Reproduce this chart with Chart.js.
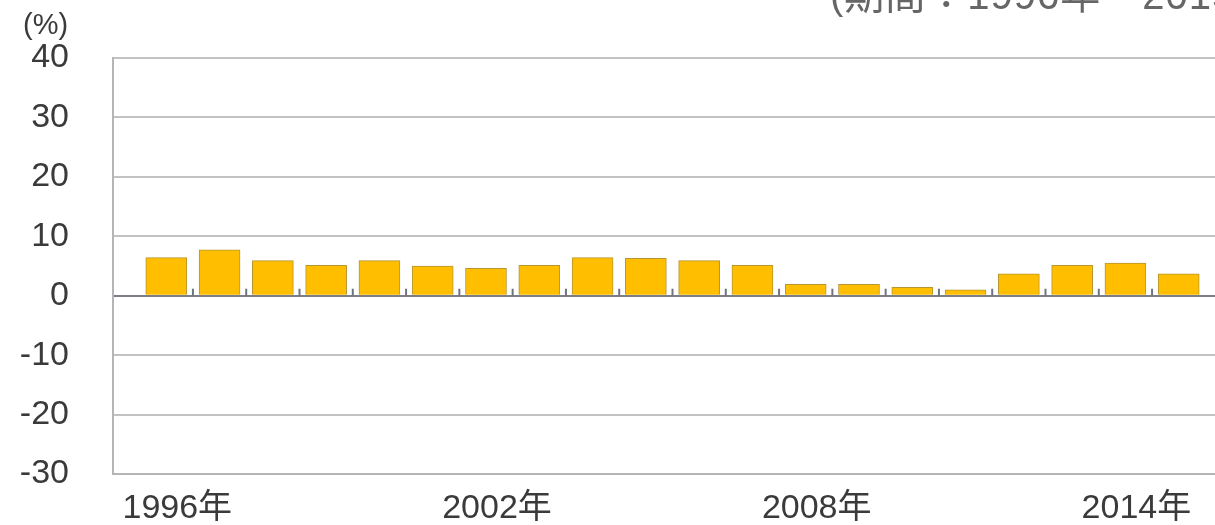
<!DOCTYPE html>
<html>
<head>
<meta charset="utf-8">
<script src="https://cdn.jsdelivr.net/npm/chart.js@4/dist/chart.umd.min.js"></script>
<style>
  html, body { margin: 0; padding: 0; background: #fff; overflow: hidden; }
  #wrap { position: relative; width: 1215px; height: 525px; overflow: hidden; }
  #growthChart { position: absolute; left: 0; top: 0; display: block; }
  .note { position: absolute; color: #555; font-family: "Liberation Sans", "Noto Sans CJK JP", sans-serif; white-space: nowrap; }
  #period { left: 830px; top: -25px; font-size: 40px; line-height: 40px; color: #666; letter-spacing: 1px; }
  #unit { left: 23px; top: 7px; font-size: 29px; line-height: 34px; color: #3a3a3a; }
</style>
</head>
<body>
<div id="wrap">
  <canvas id="growthChart" width="1250" height="525"></canvas>
  <div class="note" id="period">(期間：1996年～2015年)</div>
  <div class="note" id="unit">(%)</div>
</div>
<script>
// data
const years = [1996, 1997, 1998, 1999, 2000, 2001, 2002, 2003, 2004, 2005,
               2006, 2007, 2008, 2009, 2010, 2011, 2012, 2013, 2014, 2015];
const rates = [6.4, 7.7, 5.9, 5.1, 5.9, 5.0, 4.6, 5.1, 6.4, 6.3,
               5.9, 5.1, 1.9, 1.9, 1.4, 1.0, 3.7, 5.1, 5.5, 3.7];
const yearTicks = [1996, 2002, 2008, 2014];
const rateTicks = [-30, -20, -10, 0, 10, 20, 30, 40];

const fontFamily = '"Liberation Sans", "Noto Sans CJK JP", sans-serif';

// little marks on the zero line between bars
const zeroTicks = {
    id: 'zeroTicks',
    afterDatasetsDraw(chart) {
        const { ctx, scales } = chart;
        const y0 = scales.y.getPixelForValue(0);
        ctx.save();
        ctx.strokeStyle = '#6f7480';
        ctx.lineWidth = 2;
        for (let i = 0; i < years.length - 1; i++) {
            const x = scales.x.getPixelForValue(years[i] + 0.5);
            ctx.beginPath();
            ctx.moveTo(x, y0 - 7);
            ctx.lineTo(x, y0);
            ctx.stroke();
        }
        ctx.restore();
    }
};

const ctx = document.getElementById('growthChart').getContext('2d');
new Chart(ctx, {
    type: 'bar',
    data: {
        datasets: [
            {
                data: years.map((yr, i) => ({ x: yr, y: rates[i] })),
                backgroundColor: '#FFBE00',
                borderColor: '#B8962E',
                borderWidth: 1,
                barThickness: 41
            }
        ]
    },
    options: {
        responsive: false,
        animation: false,
        layout: {
            padding: { top: 58, left: 0, right: 18, bottom: 0 }
        },
        plugins: {
            legend: { display: false },
            tooltip: { enabled: false }
        },
        scales: {
            x: {
                type: 'linear',
                offset: false,
                min: 1995,
                max: 2016,
                afterBuildTicks: (scale) => {
                    scale.ticks = yearTicks.map(v => ({ value: v }));
                },
                afterFit: (scale) => {
                    scale.height = 51;
                    scale.paddingLeft = 0;
                    scale.paddingRight = 0;
                },
                grid: { display: false },
                border: { display: true, color: '#b5b5b5', width: 2 },
                ticks: {
                    autoSkip: false,
                    maxRotation: 0,
                    padding: 6,
                    labelOffset: 11,
                    color: '#3a3a3a',
                    font: { family: fontFamily, size: 34 },
                    callback: (v) => v + '年'
                }
            },
            y: {
                min: -30,
                max: 40,
                afterBuildTicks: (scale) => {
                    scale.ticks = rateTicks.map(v => ({ value: v }));
                },
                afterFit: (scale) => {
                    scale.width = 113;
                    scale.paddingTop = 0;
                    scale.paddingBottom = 0;
                },
                grid: {
                    drawTicks: false,
                    lineWidth: 2,
                    color: (c) => (c.tick.value === 0 ? '#7d7f86' : '#c2c2c2')
                },
                border: { display: true, color: '#b5b5b5', width: 2 },
                ticks: {
                    padding: 44,
                    color: '#3a3a3a',
                    font: { family: fontFamily, size: 34 }
                }
            }
        }
    },
    plugins: [zeroTicks]
});
</script>
</body>
</html>
